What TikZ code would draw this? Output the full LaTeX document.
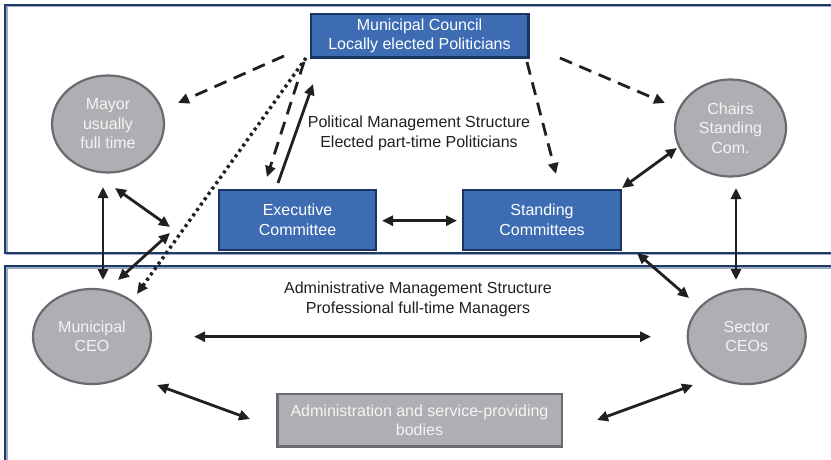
\documentclass[tikz,border=0pt]{standalone}
\usepackage{fontspec}
\setmainfont{Liberation Sans}
\usetikzlibrary{arrows.meta,shapes.geometric,calc}

\definecolor{boxblue}{HTML}{3D6CB3}
\definecolor{boxedge}{HTML}{1B3563}
\definecolor{framenavy}{HTML}{1F3A64}
\definecolor{frameshade}{HTML}{9AAAC4}
\definecolor{roundfill}{HTML}{AEAFB2}
\definecolor{roundedge}{HTML}{6A6B6E}
\definecolor{ink}{HTML}{231F20}
\definecolor{paletext}{HTML}{F4F4F4}

\tikzset{
  every node/.style={font=\fontsize{16}{19.5}\selectfont, align=center, inner sep=0pt},
  bluebox/.style={rectangle, fill=boxblue, draw=boxedge, line width=2.4pt, text=white},
  graybox/.style={rectangle, fill=roundfill, draw=roundedge, line width=2.4pt, text=paletext},
  role/.style={ellipse, fill=roundfill, draw=roundedge, line width=2.2pt, text=paletext},
  label/.style={text=ink},
  tip/.style={-{Triangle[length=11pt,width=10pt]}},
  bothtips/.style={{Triangle[length=11pt,width=10pt]}-{Triangle[length=11pt,width=10pt]}},
  link/.style={draw=ink, line width=2.8pt},
  dashlink/.style={link, dash pattern=on 13pt off 8pt},
  dotlink/.style={draw=ink, line width=3.4pt, dash pattern=on 3pt off 3.6pt},
  frame/.style={draw=framenavy, line width=2.2pt},
  frameshadow/.style={draw=frameshade, line width=1.4pt}
}

\begin{document}
\begin{tikzpicture}[x=1pt,y=-1pt]
  \useasboundingbox (0,0) rectangle (831,460);
  \clip (0,0) rectangle (831,460);
  \fill[white] (0,0) rectangle (831,460);

  % the two structure frames, open to the right
  \draw[frameshadow] (840,6.8) -- (6.8,6.8) -- (6.8,254.5) -- (840,254.5);
  \draw[frame] (840,5) -- (5,5) -- (5,252.7) -- (840,252.7);
  \draw[frameshadow] (840,267.8) -- (6.8,267.8) -- (6.8,470);
  \draw[frame] (840,266) -- (5,266) -- (5,470);

  % nodes
  \node[bluebox, minimum width=217.6pt, minimum height=43.3pt] (council) at (419.5,35.7)
    {Municipal Council\\Locally elected Politicians};
  \node[role, minimum width=112pt, minimum height=97pt] (mayor) at (108,124)
    {Mayor\\usually\\full time};
  \node[role, minimum width=111pt, minimum height=97pt] (chairs) at (730.5,128)
    {Chairs\\Standing\\Com.};
  \node[bluebox, minimum width=157pt, minimum height=60pt] (exec) at (297.5,220)
    {Executive\\Committee};
  \node[bluebox, minimum width=158pt, minimum height=60pt] (standing) at (542,220)
    {Standing\\Committees};
  \node[role, minimum width=118pt, minimum height=95pt] (ceo) at (92,336.5)
    {Municipal\\CEO};
  \node[role, minimum width=118pt, minimum height=95pt] (sector) at (746.7,336.5)
    {Sector\\CEOs};
  \node[graybox, minimum width=284.4pt, minimum height=52.7pt] (admin) at (419.5,420.3)
    {Administration and service-providing\\bodies};

  \node[label] (polstruct) at (419,133.5)
    {Political Management Structure\\Elected part-time Politicians};
  \node[label] (admstruct) at (418,299.5)
    {Administrative Management Structure\\Professional full-time Managers};

  % meeting point of the mayor and CEO links
  \coordinate (jm) at ($(mayor)+(62,103)$);
  \coordinate (jo) at ($(mayor)+(62,109)$);

  % council instructions
  \draw[dashlink, tip] ($(council)+(-135.5,20.3)$) -- ($(mayor)+(70,-21)$);
  \draw[dashlink, tip] ($(council)+(-115.5,26.3)$) -- ($(exec)+(-30.5,-43)$);
  \draw[link, tip] ($(exec)+(-19.5,-37)$) -- ($(council)+(-106.5,48.3)$);
  \draw[dotlink, tip] ($(council)+(-113.5,22.3)$) -- ($(ceo)+(45,-42.5)$);
  \draw[dashlink, tip] ($(council)+(107.5,26.3)$) -- ($(standing)+(14,-46)$);
  \draw[dashlink, tip] ($(council)+(140.5,22.3)$) -- ($(chairs)+(-65.5,-25)$);

  % two-way relations
  \draw[link, bothtips] ($(exec)+(84.5,0.7)$) -- ($(standing)+(-85,0.7)$);
  \draw[link, bothtips] ($(standing)+(80,-32)$) -- ($(chairs)+(-53.5,20)$);
  \draw[link, bothtips] ($(standing)+(95,33)$) -- ($(sector)+(-57.7,-38.5)$);
  \draw[link, bothtips] ($(chairs)+(5.5,60)$) -- ($(sector)+(-10.7,-56.5)$);
  \draw[link, bothtips] ($(mayor)+(-5,63)$) -- ($(ceo)+(11,-56.5)$);
  \draw[link, bothtips] ($(mayor)+(7,64)$) -- (jm);
  \draw[link, bothtips] (jo) -- ($(ceo)+(26,-56.5)$);
  \draw[link, bothtips] ($(ceo)+(102,0.2)$) -- ($(sector)+(-95.7,0.2)$);
  \draw[link, bothtips] ($(ceo)+(65,48.5)$) -- ($(admin)+(-169.5,-1.3)$);
  \draw[link, bothtips] ($(admin)+(177.5,-0.3)$) -- ($(sector)+(-53.7,48.5)$);
\end{tikzpicture}
\end{document}
